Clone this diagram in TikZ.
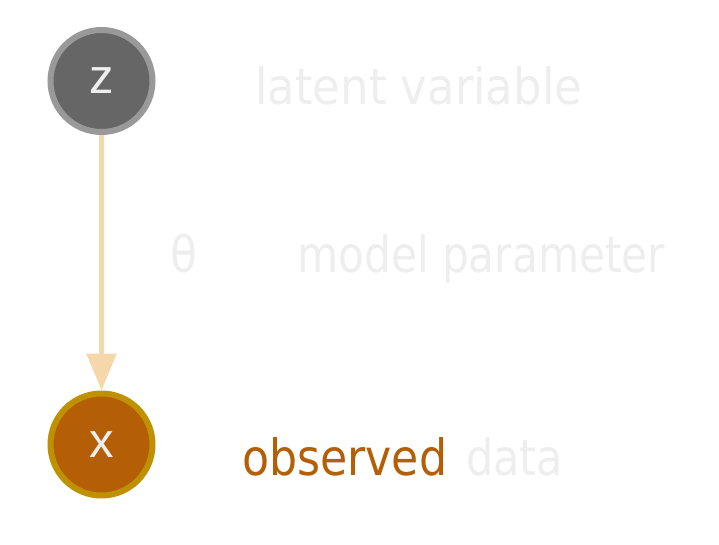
\documentclass[tikz,border=0pt]{standalone}
\usepackage{fontspec}
\usepackage{graphicx}
\setmainfont{DejaVu Sans}
\newfontfamily\nodefont{Liberation Sans}
\usetikzlibrary{arrows.meta}
\definecolor{zfill}{HTML}{666666}
\definecolor{zborder}{HTML}{999999}
\definecolor{xfill}{HTML}{B45F06}
\definecolor{xborder}{HTML}{BF9000}
\definecolor{arrowc}{HTML}{F6D7AA}
\definecolor{faint}{HTML}{EEEEEE}
\newcommand{\fitw}[2]{\resizebox{#1}{\height}{#2}}
\begin{document}
\begin{tikzpicture}[x=1pt,y=1pt,
  varnode/.style={circle, minimum size=102pt, inner sep=0pt, line width=6pt,
    font=\nodefont\fontsize{49}{49}\selectfont, text=faint},
  lbl/.style={anchor=base west, inner sep=0pt, font=\fontsize{50}{50}\selectfont},
  conn/.style={line width=5.5pt, draw=arrowc, -{Triangle[width=29pt,length=37pt]}}]
\useasboundingbox (0,0) rectangle (719,544);
\node[varnode, fill=zfill, draw=zborder] (z) at (101.5,463) {z};
\node[varnode, fill=xfill, draw=xborder] (x) at (101.5,99.5) {x};
\draw[conn] (z) -- (x);
\node[lbl, text=faint] (lv) at (255,439) {\fitw{327pt}{latent variable}};
\node[lbl, text=faint] (th) at (170,272) {\fitw{27pt}{θ}};
\node[lbl, text=faint] (mp) at (297,272) {\fitw{368pt}{model parameter}};
\node[lbl, text=xfill] (ob) at (242,69) {\fitw{205pt}{observed}};
\node[lbl, text=faint] (da) at (466,69) {\fitw{97pt}{data}};
\end{tikzpicture}
\end{document}
